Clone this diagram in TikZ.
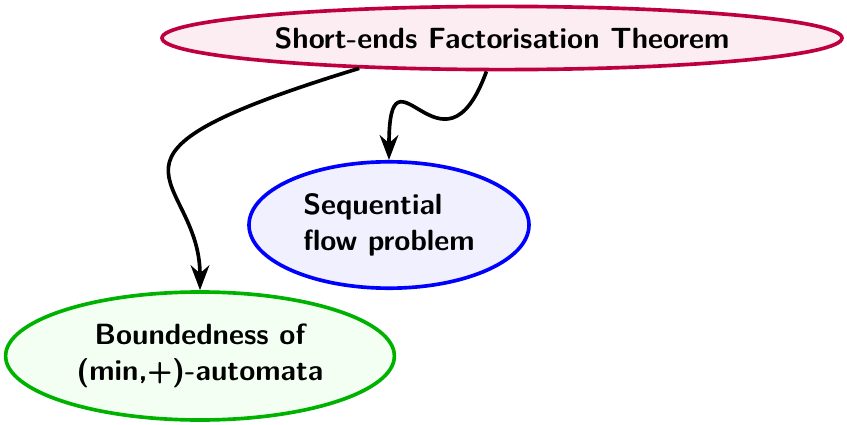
\documentclass[tikz,border=0pt]{standalone}
\usetikzlibrary{arrows.meta,positioning,shapes.geometric}

\begin{document}
\begin{tikzpicture}
  [line width=1.3pt,
   >={Stealth},
   font=\fontsize{10.4}{13}\selectfont\sffamily\bfseries,
   resultnode/.style={ellipse,
                      inner sep=0pt,
                      align=center},]
  \useasboundingbox (0,0) rectangle (10.5875,-5.3125);
  \node[resultnode,draw=purple,fill=purple!7,minimum width=8.5cm,minimum height=0.79cm]
       (sft) at (6.275,-0.475)  {Short-ends Factorisation Theorem};
  \node[resultnode,draw=blue,fill=blue!6,minimum width=3.5cm,minimum height=1.58cm,align=left]
       (seq) at (4.8625,-2.8125) {Sequential\\flow problem};
  \node[resultnode,draw=green!70!black,fill=green!5,minimum width=4.86cm,minimum height=1.6cm]
       (bnd) at (2.5,-4.45)      {Boundedness of\\(min,+)-automata};
  \path[->]
  (sft.-168) edge [out=-163,in=90,out looseness=2.9,in looseness=1.1] (bnd)
  (sft.-115) edge [out=-110,in=90,looseness=2.5]                      (seq);
\end{tikzpicture}
\end{document}
